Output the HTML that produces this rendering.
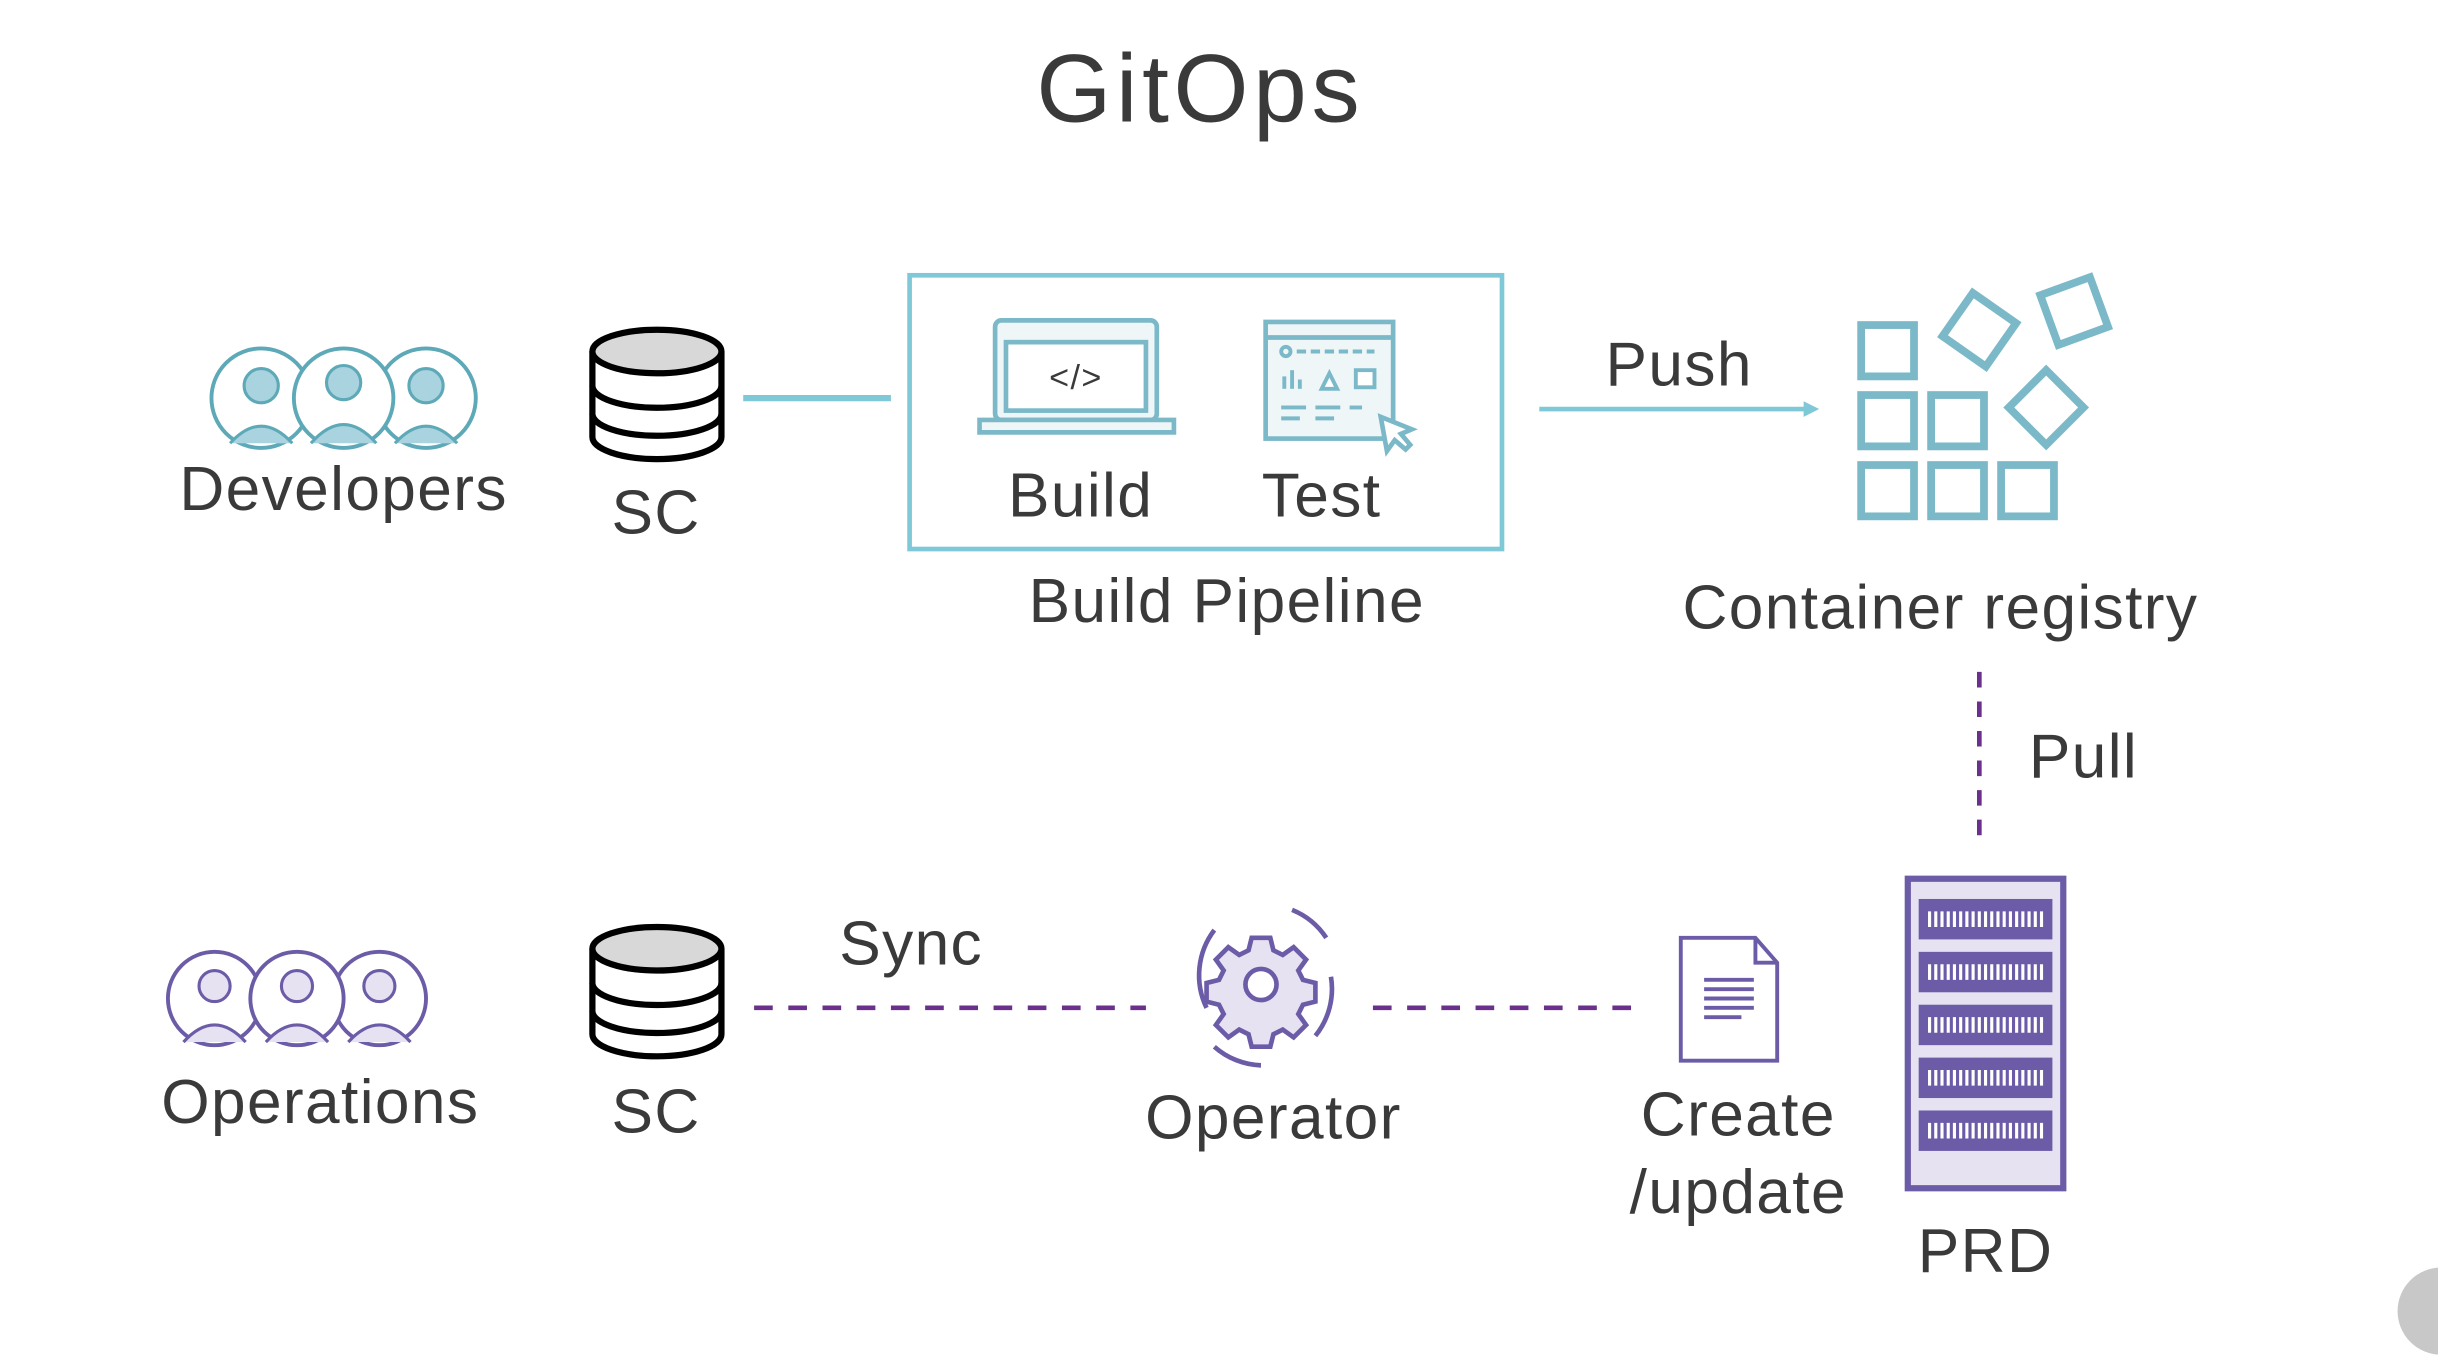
<!DOCTYPE html>
<html><head><meta charset="utf-8"><style>
html,body{margin:0;padding:0;background:#fff;width:2438px;height:1364px;overflow:hidden}
svg{display:block}
text{font-family:"Liberation Sans",sans-serif;fill:#3a3a3a;letter-spacing:0.9px}
</style></head><body>
<svg width="2438" height="1364" viewBox="0 0 1568 877" preserveAspectRatio="none">
<text x="772" y="78" font-size="62" text-anchor="middle" fill="#454545" style="letter-spacing:3px">GitOps</text>

<!-- Developers -->
<g stroke="#5ea9b8" stroke-width="2.5" fill="#ffffff">
<circle cx="168" cy="256" r="32"/><circle cx="274" cy="256" r="32"/><circle cx="221" cy="256" r="32"/>
</g>
<g fill="#a9d3de" stroke="#5ea9b8" stroke-width="2">
<circle cx="168" cy="248" r="11"/><path d="M148 285 q20-22 40 0"/>
<circle cx="221" cy="246" r="11"/><path d="M200 285 q21-24 42 0"/>
<circle cx="274" cy="248" r="11"/><path d="M254 285 q20-22 40 0"/>
</g>
<text x="221" y="328" font-size="40" text-anchor="middle">Developers</text>

<!-- SC 1 -->
<g stroke="#000" stroke-width="4" fill="#fff">
<path d="M381 226 v55 a41 14 0 0 0 83 0 v-55"/>
<path d="M381 248 a41 14 0 0 0 83 0" fill="none"/>
<path d="M381 266 a41 14 0 0 0 83 0" fill="none"/>
<ellipse cx="422.5" cy="226" rx="41.5" ry="14" fill="#d8d8d8"/>
</g>
<text x="422" y="343" font-size="40" text-anchor="middle">SC</text>
<line x1="478" y1="256" x2="573" y2="256" stroke="#7ec8d8" stroke-width="4"/>

<!-- Pipeline box -->
<rect x="585" y="177" width="381" height="176" fill="none" stroke="#7ec8d8" stroke-width="3"/>
<g stroke="#7bb9c9" stroke-width="3" fill="#eef6f8">
<rect x="640" y="206" width="104" height="64" rx="4"/>
<rect x="647" y="220" width="90" height="44" fill="#fff"/>
<path d="M630 270 h125 v8 h-125 z"/>
</g>
<text x="692" y="250" font-size="22" text-anchor="middle" fill="#7bb9c9">&lt;/&gt;</text>
<g stroke="#7bb9c9" stroke-width="3" fill="#eef6f8">
<rect x="814" y="207" width="82" height="75"/>
<line x1="814" y1="217" x2="896" y2="217"/>
<g stroke-width="2.5"><circle cx="827" cy="226" r="3"/><line x1="834" y1="226" x2="884" y2="226" stroke-dasharray="6 3"/>
<rect x="872" y="238" width="12" height="11" fill="#fff"/><path d="M850 250 l5-10 5 10z" fill="#fff"/>
<line x1="826" y1="250" x2="826" y2="242"/><line x1="831" y1="250" x2="831" y2="238"/><line x1="836" y1="250" x2="836" y2="244"/>
<line x1="824" y1="262" x2="840" y2="262"/><line x1="846" y1="262" x2="862" y2="262"/><line x1="824" y1="269" x2="836" y2="269"/><line x1="846" y1="269" x2="858" y2="269"/><line x1="868" y1="262" x2="876" y2="262"/></g>
<path d="M888 268 l4 22 5-7 7 6 3-3-6-7 7-3z" fill="#fff"/>
</g>
<text x="695" y="332" font-size="40" text-anchor="middle">Build</text>
<text x="850" y="332" font-size="40" text-anchor="middle">Test</text>
<text x="789" y="400" font-size="40" text-anchor="middle">Build Pipeline</text>

<!-- Push -->
<line x1="990" y1="263" x2="1162" y2="263" stroke="#7ec8d8" stroke-width="3"/>
<path d="M1160 258 l10 5 -10 5z" fill="#7ec8d8"/>
<text x="1080" y="248" font-size="40" text-anchor="middle">Push</text>

<!-- Registry -->
<g stroke="#7bb9c9" stroke-width="5" fill="none">
<rect x="1197" y="209" width="34" height="33"/>
<rect x="1197" y="254" width="34" height="33"/><rect x="1242" y="254" width="34" height="33"/>
<rect x="1197" y="299" width="34" height="33"/><rect x="1242" y="299" width="34" height="33"/><rect x="1287" y="299" width="34" height="33"/>
<rect x="-17" y="-17" width="34" height="34" transform="translate(1273 212) rotate(35)"/>
<rect x="-17" y="-17" width="34" height="34" transform="translate(1334 200) rotate(-20)"/>
<rect x="-17" y="-17" width="34" height="34" transform="translate(1316 262) rotate(45)"/>
</g>
<text x="1248" y="404" font-size="40" text-anchor="middle">Container registry</text>

<!-- Pull -->
<line x1="1273" y1="432" x2="1273" y2="542" stroke="#6b2f8c" stroke-width="3" stroke-dasharray="10 9"/>
<text x="1340" y="500" font-size="40" text-anchor="middle">Pull</text>

<!-- Operations -->
<g stroke="#6c5ca8" stroke-width="2.5" fill="#fff">
<circle cx="138" cy="642" r="30"/><circle cx="244" cy="642" r="30"/><circle cx="191" cy="642" r="30"/>
</g>
<g fill="#e6e2f2" stroke="#6c5ca8" stroke-width="2">
<circle cx="138" cy="634" r="10"/><path d="M118 670 q20-22 40 0"/>
<circle cx="191" cy="634" r="10"/><path d="M171 670 q20-22 40 0"/>
<circle cx="244" cy="634" r="10"/><path d="M224 670 q20-22 40 0"/>
</g>
<text x="206" y="722" font-size="40" text-anchor="middle">Operations</text>

<!-- SC 2 -->
<g stroke="#000" stroke-width="4" fill="#fff">
<path d="M381 610 v55 a41 14 0 0 0 83 0 v-55"/>
<path d="M381 632 a41 14 0 0 0 83 0" fill="none"/>
<path d="M381 650 a41 14 0 0 0 83 0" fill="none"/>
<ellipse cx="422.5" cy="610" rx="41.5" ry="14" fill="#d8d8d8"/>
</g>
<text x="422" y="728" font-size="40" text-anchor="middle">SC</text>

<!-- Sync lines -->
<g stroke="#6b2f8c" stroke-width="3" stroke-dasharray="12 10">
<line x1="485" y1="648" x2="737" y2="648"/>
<line x1="883" y1="648" x2="1050" y2="648"/>
</g>
<text x="586" y="620" font-size="40" text-anchor="middle">Sync</text>

<!-- Operator gear -->
<g transform="translate(811 633)" stroke="#6c5ca8" stroke-width="3" fill="#e6e2f2">
<path d="M-6 -30 h12 l2 8 6 3 7-5 8 8 -5 7 3 6 8 2 v12 l-8 2 -3 6 5 7 -8 8 -7-5 -6 3 -2 8 h-12 l-2-8 -6-3 -7 5 -8-8 5-7 -3-6 -8-2 v-12 l8-2 3-6 -5-7 8-8 7 5 6-3z"/>
<circle r="10" fill="#fff"/>
<g fill="none"><path d="M20 -48 a48 48 0 0 1 22 18"/><path d="M-35 15 a48 48 0 0 1 5 -50"/><path d="M45 -5 a48 48 0 0 1 -10 38"/><path d="M-30 40 a48 48 0 0 0 30 12"/></g>
</g>
<text x="819" y="732" font-size="40" text-anchor="middle">Operator</text>

<!-- Doc -->
<g stroke="#6c5ca8" stroke-width="2.5" fill="#fff">
<path d="M1081 603 h48 l14 16 v63 h-62z"/>
<path d="M1129 603 v16 h14" fill="none"/>
<g stroke-width="2.5"><line x1="1096" y1="630" x2="1128" y2="630"/><line x1="1096" y1="636" x2="1128" y2="636"/><line x1="1096" y1="642" x2="1128" y2="642"/><line x1="1096" y1="648" x2="1128" y2="648"/><line x1="1096" y1="654" x2="1120" y2="654"/></g>
</g>
<text x="1118" y="730" font-size="40" text-anchor="middle">Create</text>
<text x="1118" y="780" font-size="40" text-anchor="middle">/update</text>

<!-- PRD server -->
<rect x="1227" y="565" width="100" height="199" fill="#e6e2f2" stroke="#6c5ca8" stroke-width="4"/>
<g fill="#6c5ca8">
<rect x="1234" y="578" width="86" height="26"/><rect x="1234" y="612" width="86" height="26"/><rect x="1234" y="646" width="86" height="26"/><rect x="1234" y="680" width="86" height="26"/><rect x="1234" y="714" width="86" height="26"/>
</g>
<g stroke="#fff" stroke-width="10" stroke-dasharray="2 2">
<line x1="1240" y1="591" x2="1314" y2="591"/><line x1="1240" y1="625" x2="1314" y2="625"/><line x1="1240" y1="659" x2="1314" y2="659"/><line x1="1240" y1="693" x2="1314" y2="693"/><line x1="1240" y1="727" x2="1314" y2="727"/>
</g>
<text x="1277" y="818" font-size="40" text-anchor="middle">PRD</text>

<circle cx="1570" cy="843" r="28" fill="#c8c8c8"/>
</svg>
</body></html>
